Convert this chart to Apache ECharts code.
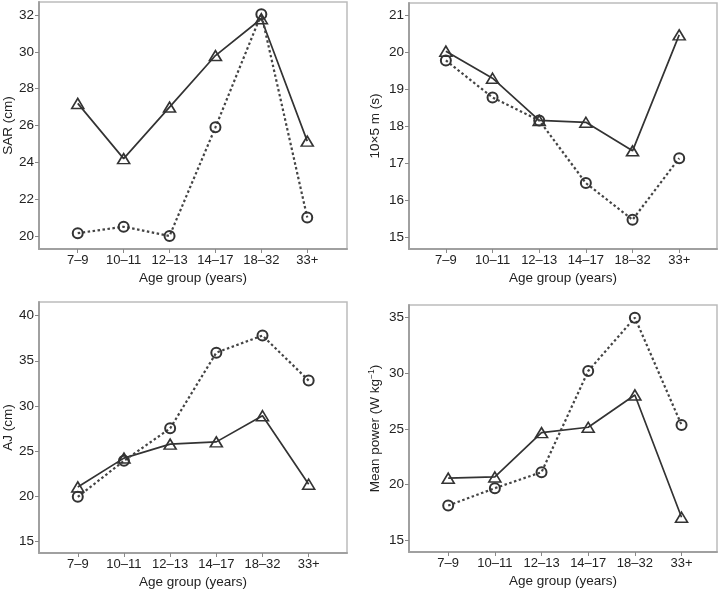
<!DOCTYPE html>
<html><head><meta charset="utf-8">
<script src="https://cdn.jsdelivr.net/npm/echarts@6/dist/echarts.min.js"></script>
<style>html,body{margin:0;padding:0;background:#fff}#c{width:721px;height:590px}</style>
</head><body><div id="c"></div>
<script>
const categories = ['7\u20139','10\u201311','12\u201313','14\u201317','18\u201332','33+'];
const sarTri = [27.2, 24.2, 27.0, 29.8, 31.8, 25.15];
const sarCir = [20.15, 20.5, 20.0, 25.9, 32.05, 21.0];
const shuttleTri = [20.02, 19.29, 18.15, 18.1, 17.33, 20.46];
const shuttleCir = [19.77, 18.77, 18.15, 16.46, 15.47, 17.13];
const ajTri = [21.0, 24.2, 25.75, 26.0, 28.9, 21.3];
const ajCir = [19.9, 23.9, 27.5, 35.9, 37.8, 32.8];
const powerTri = [20.56, 20.67, 24.66, 25.14, 28.05, 17.05];
const powerCir = [18.1, 19.66, 21.1, 30.2, 35.0, 25.35];
const yTicks1 = [20, 22, 24, 26, 28, 30, 32];
const yTicks2 = [15, 16, 17, 18, 19, 20, 21];
const yTicks3 = [15, 20, 25, 30, 35, 40];
const yTicks4 = [15, 20, 25, 30, 35];
const yNames = ['SAR (cm)', '10\u00d75 m (s)', 'AJ (cm)', '{a|Mean power (W kg}{s|\u22121}{a|)}'];
const xName = 'Age group (years)';

const FONT = 'Liberation Sans, Arial, sans-serif';
const grids = [
  {left: 37, top: 2, width: 310, height: 247},
  {left: 409, top: 3, width: 308, height: 246},
  {left: 36, top: 302, width: 311, height: 251},
  {left: 409, top: 305, width: 308, height: 247}
];
const xRanges = [[-0.844, 5.866], [-0.79, 5.81], [-0.84, 5.83], [-0.84, 5.76]];
const yRanges = [[19.29, 32.71], [14.68, 21.32], [13.67, 41.52], [13.92, 36.14]];
const yTicks = [yTicks1, yTicks2, yTicks3, yTicks4];
const nameGaps = [24, 27, 24, 25];
const triData = [sarTri, shuttleTri, ajTri, powerTri];
const cirData = [sarCir, shuttleCir, ajCir, powerCir];
const idx = [0,1,2,3,4,5];

const option = {
  animation: false,
  backgroundColor: '#fff',
  grid: grids.map(g => Object.assign({show: true, borderColor: '#bcbcbc', borderWidth: 1.5, backgroundColor: '#fff'}, g)),
  xAxis: grids.map((g, i) => ({
    type: 'value', gridIndex: i, min: xRanges[i][0], max: xRanges[i][1],
    name: xName, nameLocation: 'middle', nameGap: 22,
    nameTextStyle: {fontFamily: FONT, fontSize: 13.5, color: '#222'},
    axisLine: {show: true, onZero: false, lineStyle: {color: '#a0a0a0', width: 2}},
    axisTick: {show: true, length: 4, customValues: idx, lineStyle: {color: '#888'}},
    axisLabel: {customValues: idx, margin: 5, fontFamily: FONT, fontSize: 13, color: '#222',
      formatter: v => categories[Math.round(v)]},
    splitLine: {show: false}
  })),
  yAxis: grids.map((g, i) => ({
    type: 'value', gridIndex: i, min: yRanges[i][0], max: yRanges[i][1],
    name: yNames[i], nameLocation: 'middle', nameGap: nameGaps[i],
    nameTextStyle: {fontFamily: FONT, fontSize: 13.5, color: '#222',
      rich: {a: {fontFamily: FONT, fontSize: 13.5, color: '#222'},
             s: {fontFamily: FONT, fontSize: 8.5, color: '#222', padding: [0, 0, 8, 0]}}},
    axisLine: {show: true, onZero: false, lineStyle: {color: '#a0a0a0', width: 2}},
    axisTick: {show: true, length: 4, customValues: yTicks[i], lineStyle: {color: '#888'}},
    axisLabel: {customValues: yTicks[i], margin: 5, fontFamily: FONT, fontSize: 13.5, color: '#222'},
    splitLine: {show: false}
  })),
  series: []
};
for (let i = 0; i < 4; i++) {
  option.series.push({
    type: 'line', xAxisIndex: i, yAxisIndex: i,
    data: triData[i].map((v, k) => [k, v]),
    symbol: 'triangle', symbolSize: [12, 10],
    lineStyle: {color: '#333', width: 1.7, type: 'solid'},
    itemStyle: {color: 'rgba(255,255,255,0)', borderColor: '#333', borderWidth: 1.6},
    z: 3
  });
  option.series.push({
    type: 'line', xAxisIndex: i, yAxisIndex: i,
    data: cirData[i].map((v, k) => [k, v]),
    symbol: 'circle', symbolSize: 10,
    lineStyle: {color: '#444', width: 2.2, type: [2.5, 2.5]},
    itemStyle: {color: 'rgba(255,255,255,0)', borderColor: '#333', borderWidth: 2},
    z: 3
  });
}
echarts.init(document.getElementById('c'), null, {renderer: 'canvas'}).setOption(option);
</script></body></html>
